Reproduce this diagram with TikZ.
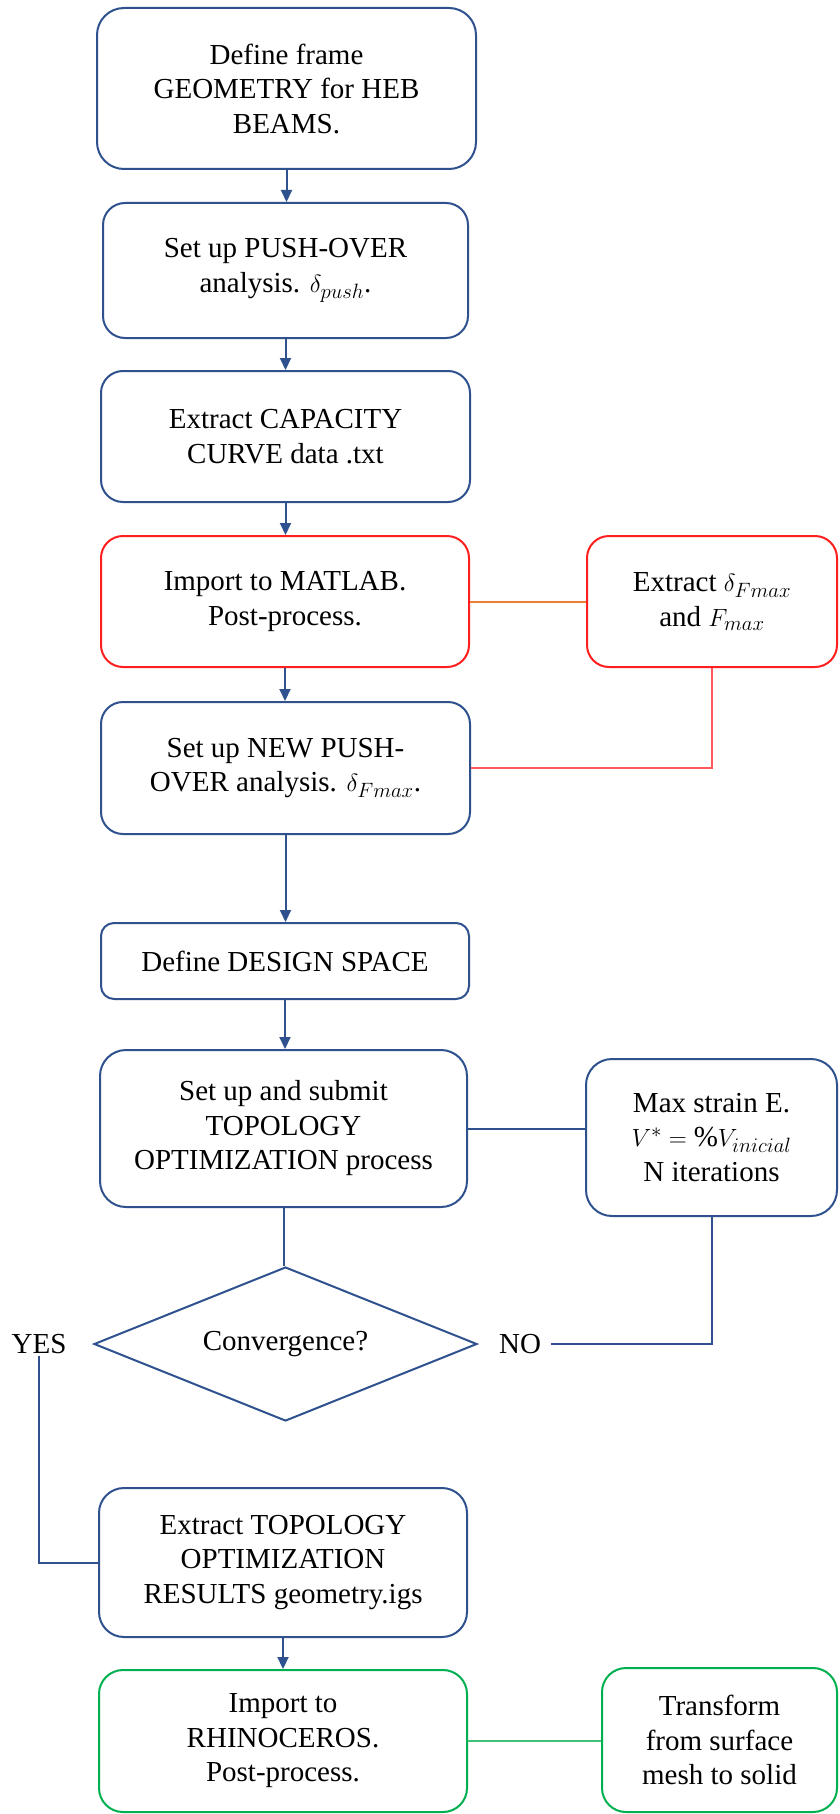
\documentclass[tikz,border=0pt]{standalone}
\usepackage{fontspec}
\setmainfont{LiberationSerif}[
  Extension=.ttf,
  UprightFont=*-Regular,
  BoldFont=*-Bold,
  ItalicFont=*-Italic,
  BoldItalicFont=*-BoldItalic]
\usetikzlibrary{shapes.geometric,arrows.meta}

\definecolor{flowblue}{HTML}{2F528F}
\definecolor{flowred}{HTML}{FF1F1F}
\definecolor{linkred}{HTML}{FF5A5A}
\definecolor{linkorange}{HTML}{ED7D31}
\definecolor{flowgreen}{HTML}{00B050}
\definecolor{linkgreen}{HTML}{40C075}

\begin{document}
\begin{tikzpicture}[x=1pt,y=-1pt,
  every node/.style={font=\fontsize{29}{34.5}\selectfont, text=black},
  stepbox/.style={draw=flowblue, line width=2pt, align=center, inner sep=0pt},
  redbox/.style={stepbox, draw=flowred},
  greenbox/.style={stepbox, draw=flowgreen},
  decision/.style={draw=flowblue, line width=2pt, shape=diamond, inner sep=0pt},
  answer/.style={inner xsep=10pt, inner ysep=2pt},
  flow/.style={draw=flowblue, line width=2pt, -{Triangle[length=12pt,width=11pt]}},
  link/.style={draw=flowblue, line width=2pt}
]
\fill[white] (0,0) rectangle (839,1814);
\useasboundingbox (0,0) rectangle (839,1814);

% main column
\node[stepbox, minimum width=379pt, minimum height=161pt, rounded corners=27pt]
  (b1) at (286.5,88.5) {Define frame\\GEOMETRY for HEB\\BEAMS.};
\node[stepbox, minimum width=365pt, minimum height=135pt, rounded corners=22pt]
  (b2) at (285.5,270.5) {Set up PUSH-OVER\\analysis. $\delta_{push}$.};
\node[stepbox, minimum width=369pt, minimum height=131pt, rounded corners=22pt]
  (b3) at (285.5,436.5) {Extract CAPACITY\\CURVE data .txt};
\node[redbox, minimum width=368pt, minimum height=131pt, rounded corners=22pt]
  (b4) at (285,601.5) {Import to MATLAB.\\Post-process.};
\node[stepbox, minimum width=369pt, minimum height=132pt, rounded corners=22pt]
  (b6) at (285.5,768) {Set up NEW PUSH-\\OVER analysis. $\delta_{Fmax}$.};
\node[stepbox, minimum width=368pt, minimum height=76pt, rounded corners=13pt]
  (b7) at (285,961) {Define DESIGN SPACE};
\node[stepbox, minimum width=367pt, minimum height=157pt, rounded corners=26pt]
  (b8) at (283.5,1128.5) {Set up and submit\\TOPOLOGY\\OPTIMIZATION process};
\node[decision, minimum width=383pt, minimum height=154pt, shape aspect=2.49]
  (d) at (285.5,1344) {Convergence?};
\node[stepbox, minimum width=368pt, minimum height=149pt, rounded corners=25pt]
  (b10) at (283,1562.5) {Extract TOPOLOGY\\OPTIMIZATION\\RESULTS geometry.igs};
\node[greenbox, minimum width=368pt, minimum height=142pt, rounded corners=24pt]
  (b11) at (283,1741) {Import to\\RHINOCEROS.\\Post-process.};

% side boxes
\node[redbox, minimum width=250pt, minimum height=131pt, rounded corners=22pt]
  (b5) at (712,601.5) {Extract $\delta_{Fmax}$\\and $F_{max}$};
\node[stepbox, minimum width=251pt, minimum height=157pt, rounded corners=26pt]
  (b9) at (711.5,1137.5) {Max strain E.\\$V^{*}=\%V_{inicial}$\\N iterations};
\node[greenbox, minimum width=235pt, minimum height=144pt, rounded corners=24pt]
  (b12) at (719.5,1740) {Transform\\from surface\\mesh to solid};

% decision answers
\node[answer] (yes) at (39,1344) {YES};
\node[answer] (no) at (520,1344) {NO};

% arrows down the main column
\draw[flow] (b1.south) -- (b1.south |- b2.north);
\draw[flow] (b2.south) -- (b2.south |- b3.north);
\draw[flow] (b3.south) -- (b3.south |- b4.north);
\draw[flow] (b4.south) -- (b4.south |- b6.north);
\draw[flow] (b6.south) -- (b6.south |- b7.north);
\draw[flow] (b7.south) -- (b7.south |- b8.north);
\draw[link] (b8.south) -- (b8.south |- d.north);
\draw[flow] (b10.south) -- (b10.south |- b11.north);

% side connections
\draw[draw=linkorange, line width=2pt] (b4.east) -- (b4.east -| b5.west);
\draw[draw=linkred, line width=2pt] (b5.south) |- (b6.east);
\draw[link] (b8.east) -- (b8.east -| b9.west);
\draw[link] (no.east) -| (b9.south);
\draw[link] (yes.south) |- (b10.west);
\draw[draw=linkgreen, line width=2pt] (b11.east) -- (b11.east -| b12.west);
\end{tikzpicture}
\end{document}
